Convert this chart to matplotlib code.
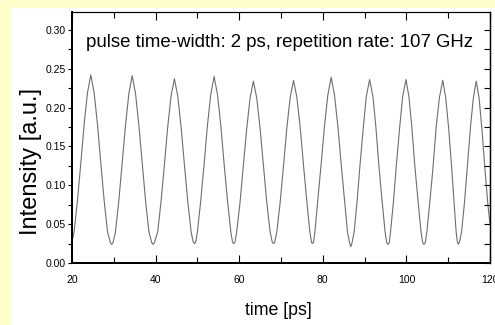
import matplotlib
matplotlib.use("Agg")
import matplotlib.pyplot as plt
from matplotlib.patches import Rectangle

# values (time in ps, intensity in a.u.)
time_ps = [
    20.0,
    20.5, 21.3, 22.1, 22.9, 23.7, 24.5, 25.3, 26.1, 26.9, 27.7, 28.5, 29.2, 29.5, 29.8,
    30.4, 31.2, 32.0, 32.8, 33.6, 34.4, 35.2, 36.0, 36.8, 37.6, 38.4, 39.1, 39.4, 39.7,
    40.5, 41.3, 42.1, 42.9, 43.7, 44.5, 45.3, 46.1, 46.9, 47.7, 48.5, 49.0, 49.3, 49.6,
    50.0, 50.8, 51.6, 52.4, 53.2, 54.0, 54.8, 55.6, 56.4, 57.2, 58.0, 58.4, 58.7, 59.0,
    59.4, 60.2, 61.0, 61.8, 62.6, 63.4, 64.2, 65.0, 65.8, 66.6, 67.4, 67.9, 68.2, 68.5,
    69.0, 69.8, 70.6, 71.4, 72.2, 73.0, 73.8, 74.6, 75.4, 76.2, 76.9, 77.3, 77.5, 77.8,
    78.1, 78.8, 79.6, 80.4, 81.2, 82.0, 82.8, 83.6, 84.4, 85.2, 85.9, 86.4, 86.7, 87.0,
    87.5, 88.2, 88.9, 89.7, 90.4, 91.2, 92.0, 92.7, 93.4, 94.2, 94.9, 95.3, 95.6, 95.9,
    96.2, 96.9, 97.6, 98.4, 99.1, 99.9, 100.6, 101.3, 102.0, 102.8, 103.5, 103.9, 104.2, 104.5,
    104.9, 105.6, 106.4, 107.1, 107.9, 108.7, 109.4, 110.1, 110.8, 111.4, 111.9, 112.2, 112.4, 112.7,
    113.2, 113.9, 114.6, 115.3, 116.0, 116.7, 117.4, 118.1, 118.8, 119.5, 120.0,
]
intensity = [
    0.027,
    0.040, 0.080, 0.128, 0.178, 0.219, 0.242, 0.219, 0.178, 0.128, 0.080, 0.040, 0.026, 0.024, 0.026,
    0.040, 0.080, 0.128, 0.177, 0.218, 0.241, 0.218, 0.177, 0.128, 0.080, 0.040, 0.026, 0.024, 0.026,
    0.040, 0.079, 0.126, 0.175, 0.215, 0.237, 0.215, 0.175, 0.126, 0.079, 0.040, 0.027, 0.025, 0.027,
    0.040, 0.080, 0.127, 0.177, 0.217, 0.240, 0.217, 0.177, 0.127, 0.080, 0.040, 0.027, 0.025, 0.027,
    0.040, 0.078, 0.125, 0.173, 0.212, 0.234, 0.212, 0.173, 0.125, 0.078, 0.040, 0.027, 0.025, 0.027,
    0.040, 0.078, 0.125, 0.174, 0.213, 0.235, 0.213, 0.174, 0.125, 0.078, 0.040, 0.027, 0.025, 0.027,
    0.040, 0.080, 0.127, 0.176, 0.216, 0.239, 0.216, 0.176, 0.127, 0.080, 0.040, 0.026, 0.021, 0.026,
    0.040, 0.079, 0.126, 0.175, 0.214, 0.236, 0.214, 0.175, 0.126, 0.079, 0.040, 0.026, 0.024, 0.026,
    0.040, 0.079, 0.126, 0.175, 0.214, 0.236, 0.214, 0.175, 0.126, 0.079, 0.040, 0.026, 0.024, 0.026,
    0.040, 0.078, 0.125, 0.174, 0.213, 0.235, 0.213, 0.174, 0.125, 0.078, 0.040, 0.027, 0.024, 0.027,
    0.040, 0.078, 0.125, 0.173, 0.212, 0.234, 0.212, 0.170, 0.120, 0.075, 0.050,
]

title = "pulse time-width: 2 ps, repetition rate: 107 GHz"
plt.rcParams["font.family"] = ["Liberation Sans", "DejaVu Sans"]

fig = plt.figure(figsize=(4.95, 3.25), dpi=100, facecolor="#FFFFCC")
fig.patches.append(Rectangle((12 / 495, 0), 1, 1 - 7 / 325, transform=fig.transFigure,
                             facecolor="white", edgecolor="none", zorder=-10))

ax = fig.add_axes([72 / 495, 62 / 325, 418 / 495, 251 / 325])
ax.plot(time_ps, intensity, color="#6e6e6e", lw=0.8)

ax.set_xlim(20, 120)
ax.set_ylim(0, 0.323)
ax.set_xticks([20, 40, 60, 80, 100, 120])
ax.set_xticks(range(30, 120, 20), minor=True)
ax.set_yticks([0.0, 0.05, 0.10, 0.15, 0.20, 0.25, 0.30])
ax.set_yticks([0.025, 0.075, 0.125, 0.175, 0.225, 0.275], minor=True)
ax.yaxis.set_major_formatter(matplotlib.ticker.FormatStrFormatter("%.2f"))

ax.tick_params(axis="x", which="both", direction="in", top=True, labelsize=7.5, pad=8.5)
ax.tick_params(axis="x", which="major", length=6, width=0.8)
ax.tick_params(axis="x", which="minor", length=4, width=0.8)
ax.tick_params(axis="y", which="both", direction="out", right=False, labelsize=7.5,
               length=3, width=0.8, pad=1.5)

rax = ax.twinx()
rax.set_ylim(0, 0.323)
rax.set_yticks([0.0, 0.025, 0.05, 0.075, 0.10, 0.125, 0.15, 0.175, 0.20, 0.225, 0.25, 0.275, 0.30])
rax.tick_params(axis="y", direction="in", length=4, width=0.8, labelright=False)

for a in (ax, rax):
    a.spines["left"].set_linewidth(1.4)
    a.spines["bottom"].set_linewidth(1.4)
    a.spines["top"].set_linewidth(0.8)
    a.spines["right"].set_linewidth(0.9)

ax.text(23.35, 0.278, title, fontsize=13.4, va="baseline")
ax.set_xlabel("time [ps]", fontsize=12.8, va="center")
ax.xaxis.set_label_coords(0.494, -0.191)
ax.set_ylabel("Intensity [a.u.]", fontsize=17, va="center")
ax.yaxis.set_label_coords(-0.098, 0.406)

fig.savefig("out.png", dpi=100, facecolor=fig.get_facecolor())
